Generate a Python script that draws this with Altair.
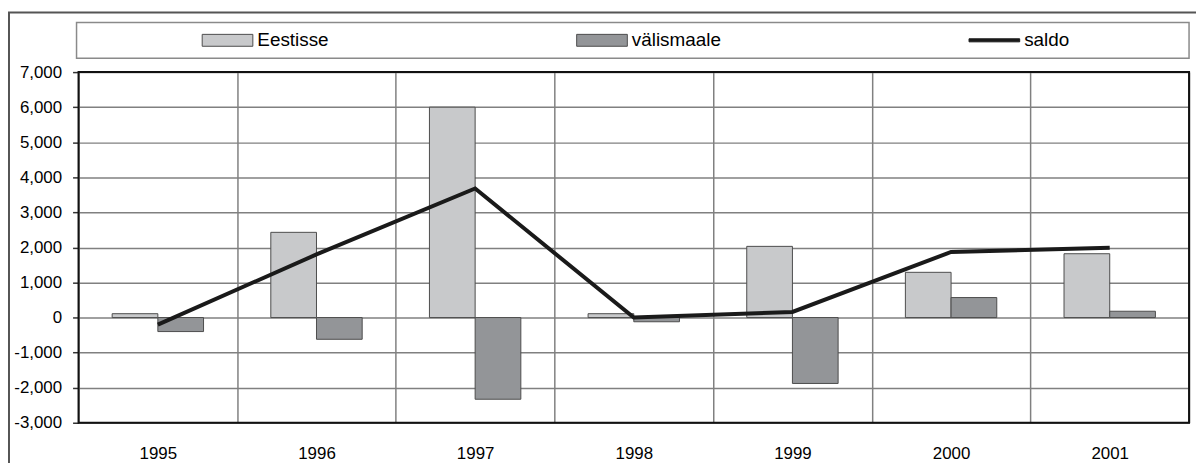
import altair as alt
import pandas as pd

# ---- data ----
years = ["1995", "1996", "1997", "1998", "1999", "2000", "2001"]
eestisse = [110, 2430, 6000, 110, 2030, 1290, 1820]
valismaale = [-400, -620, -2330, -120, -1880, 570, 180]
saldo = [-200, 1800, 3680, 0, 160, 1870, 1990]
series_names = ["Eestisse", "välismaale", "saldo"]
y_ticks = list(range(-3000, 7001, 1000))

# ---- styling ----
W, H = 1118, 353
FONT = "Liberation Sans"
LIGHT = "#c8c9cb"
DARK = "#939598"
LINE = "#1a1a1a"
BAR_EDGE = "#4d4d4d"
GRID = "#808080"

bars_df = pd.DataFrame({
    "year": years + years,
    "series": [series_names[0]] * len(years) + [series_names[1]] * len(years),
    "value": eestisse + valismaale,
})
line_df = pd.DataFrame({"year": years, "series": series_names[2], "value": saldo})
legend_df = pd.DataFrame({"series": series_names})
one = pd.DataFrame({"k": [0]})

x_scale = alt.Scale(domain=years, paddingInner=0, paddingOuter=0)
y_scale = alt.Scale(domain=[-3000, 7000], nice=False)

x_axis = alt.Axis(
    title=None, tickBand="extent", grid=True, gridColor=GRID, gridWidth=1.5,
    ticks=False, domain=False, labelAngle=0, labelFont=FONT, labelFontSize=17,
    labelColor="black", labelPadding=23,
)
y_axis = alt.Axis(
    title=None, values=y_ticks, grid=True, gridColor=GRID, gridWidth=1.5,
    tickSize=6, tickColor="#333333", tickWidth=1.5, domain=False, labelOverlap=False,
    labelFont=FONT, labelFontSize=17, labelColor="black", labelPadding=11,
    labelExpr="replace(format(datum.value, ','), '\u2212', '-')",
)

outer_frame = alt.Chart(one).mark_rect(
    fill="transparent", stroke="#555555", strokeWidth=2
).encode(x=alt.value(-70), x2=alt.value(W + 30), y=alt.value(-60), y2=alt.value(H + 80))

legend_box = alt.Chart(one).mark_rect(
    fill="transparent", stroke="#8a8a8a", strokeWidth=1.5
).encode(x=alt.value(-2), x2=alt.value(W), y=alt.value(-50), y2=alt.value(-14))

bars = alt.Chart(bars_df).mark_bar(stroke=BAR_EDGE, strokeWidth=1).encode(
    x=alt.X("year:N", scale=x_scale, sort=years, axis=x_axis),
    xOffset=alt.XOffset("series:N", sort=series_names[:2],
                        scale=alt.Scale(domain=series_names[:2], paddingInner=0, paddingOuter=0.736)),
    y=alt.Y("value:Q", scale=y_scale, axis=y_axis, stack=None),
    y2=alt.Y2(datum=0),
    fill=alt.condition(alt.datum.series == series_names[0], alt.value(LIGHT), alt.value(DARK)),
)

line = alt.Chart(line_df).mark_line(color=LINE, strokeWidth=4).encode(
    x=alt.X("year:N", scale=x_scale, sort=years, axis=x_axis),
    y=alt.Y("value:Q", scale=y_scale, axis=y_axis),
)

RECT_PATH = "M-1,-0.235H1V0.235H-1Z"
LINE_PATH = "M-1,-0.06H1V0.06H-1Z"
leg_def = alt.Legend(
    title=None, orient="none", legendX=124, legendY=-58, direction="horizontal",
    columns=3, columnPadding=247, symbolSize=2601, labelFont=FONT, labelFontSize=19,
    labelColor="black", labelOffset=4, symbolStrokeWidth=1,
)
legend_layer = alt.Chart(legend_df).transform_filter("false").mark_point(
    filled=True, opacity=1, strokeWidth=1
).encode(
    fill=alt.Fill("series:N", sort=series_names,
                  scale=alt.Scale(domain=series_names, range=[LIGHT, DARK, LINE]), legend=leg_def),
    stroke=alt.Stroke("series:N", sort=series_names,
                      scale=alt.Scale(domain=series_names, range=[BAR_EDGE, BAR_EDGE, LINE]),
                      legend=leg_def),
    shape=alt.Shape("series:N", sort=series_names,
                    scale=alt.Scale(domain=series_names, range=[RECT_PATH, RECT_PATH, LINE_PATH]),
                    legend=leg_def),
)

plot_frame = alt.Chart(one).mark_rect(
    fill="transparent", stroke="#111111", strokeWidth=2
).encode(x=alt.value(0), x2=alt.value(W), y=alt.value(0), y2=alt.value(H))

chart = alt.layer(outer_frame, legend_box, bars, line, legend_layer, plot_frame).properties(
    width=W, height=H,
    autosize=alt.AutoSizeParams(type="none"),
    padding={"left": 71, "top": 63, "right": 7, "bottom": 39},
).configure_view(stroke=None).configure(background="white")

chart.save("out.html", embed_options={"renderer": "svg", "actions": False})
